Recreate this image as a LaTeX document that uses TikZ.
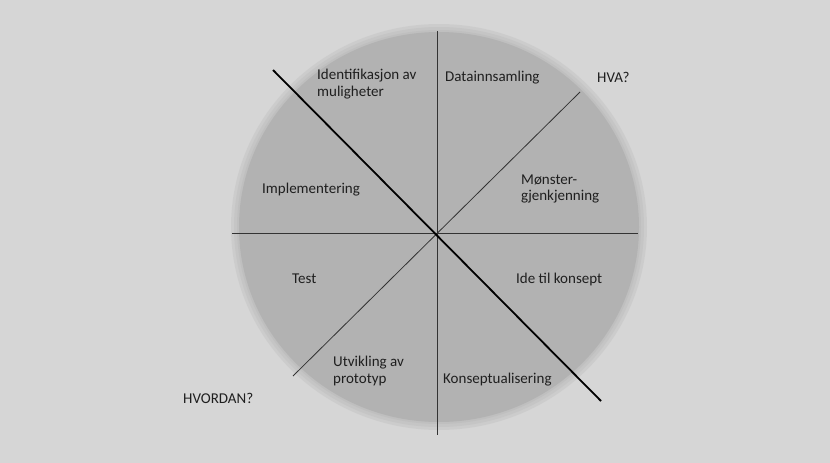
\documentclass[tikz,border=0pt]{standalone}
\usepackage{fontspec}
\setmainfont{Carlito}
\definecolor{bgc}{gray}{0.84}
\definecolor{elc}{gray}{0.70}
\definecolor{txc}{gray}{0.12}
\begin{document}
\begin{tikzpicture}[x=1pt,y=-1pt,
  lbl/.style={font=\fontsize{15}{16.5}\selectfont, text=txc, inner sep=0pt, align=left},
  thin line/.style={draw=black!80, line width=0.8pt},
  thick line/.style={draw=black, line width=1.8pt}]
\fill[bgc] (0,0) rectangle (830,463);
\useasboundingbox (0,0) rectangle (830,463);
\foreach \d/\o in {8/0.25,5/0.25,2/0.3,0/1}{
  \fill[elc, opacity=\o] (439,227) ellipse [x radius=200+\d, y radius=195+\d];
}
\coordinate (c) at (437,233);
\coordinate (vt) at (437,31);
\coordinate (vb) at (437,435);
\coordinate (hl) at (232,233);
\coordinate (hr) at (638,233);
\coordinate (d1a) at (273,70);
\coordinate (d1b) at (601,401);
\coordinate (d2a) at (580,92);
\coordinate (d2b) at (293,376);
\draw[thin line] (vt) -- (vb);
\draw[thin line] (hl) -- (hr);
\draw[thin line] (d2a) -- (d2b);
\draw[thick line] (d1a) -- (d1b);
\node[lbl, anchor=west] (n1) at (317,84) {Identifikasjon av\\muligheter};
\node[lbl, anchor=west] (n2) at (445,78) {Datainnsamling};
\node[lbl, anchor=west] (hva) at (597,77) {HVA?};
\node[lbl, anchor=west] (n3) at (262,190) {Implementering};
\node[lbl, anchor=west] (n4) at (521,189) {Mønster-\\gjenkjenning};
\node[lbl, anchor=west] (n5) at (292,279) {Test};
\node[lbl, anchor=west] (n6) at (516,279) {Ide til konsept};
\node[lbl, anchor=west] (n7) at (333,371) {Utvikling av\\prototyp};
\node[lbl, anchor=west] (n8) at (443,380) {Konseptualisering};
\node[lbl, anchor=west] (hvd) at (183,398) {HVORDAN?};
\end{tikzpicture}
\end{document}
